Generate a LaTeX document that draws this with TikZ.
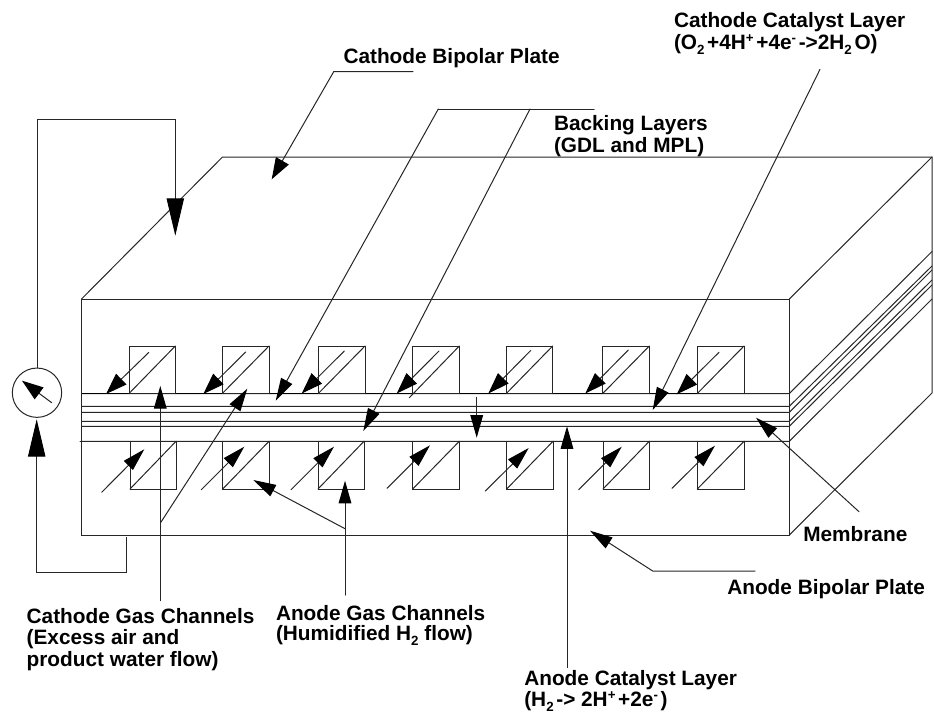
\documentclass[tikz,border=0pt]{standalone}
\usepackage{fontspec}
\setmainfont{Liberation Sans}
\usetikzlibrary{arrows.meta}
\newcommand{\lowsub}[1]{\raisebox{-3.6pt}{\fontsize{10}{10}\selectfont #1}\kern2pt}
\newcommand{\highsup}[1]{\raisebox{5.4pt}{\fontsize{10}{10}\selectfont #1}\kern2pt}
\tikzset{
  thinline/.style={line width=0.75pt,line cap=round,line join=miter,black!85},
  heavyline/.style={line width=1.1pt,black},
  bigarrow/.style={thinline,-{Triangle[length=28pt,width=13pt,color=black]}},
  leadarrow/.style={thinline,-{Triangle[length=17pt,width=9.5pt,color=black]}},
  slantarrow/.style={thinline,-{Triangle[length=16pt,width=11pt,color=black]}},
  lbl/.style={font=\fontsize{15.6}{16}\selectfont\bfseries,inner sep=0pt,outer sep=0pt,anchor=base west,align=left,text=black},
  meter/.style={circle,draw,line width=0.75pt,black!85,minimum size=37pt,inner sep=0pt},
}
\begin{document}
\begin{tikzpicture}[x=0.75pt,y=-0.75pt]
\useasboundingbox (0,0) rectangle (934,717);

% ---- block outline
\coordinate (FTL) at (81.5,299);
\coordinate (FTR) at (789.3,299);
\coordinate (FBL) at (81.5,535);
\coordinate (FBR) at (789.3,535);
\coordinate (BTL) at (222.5,157);
\coordinate (BTR) at (932,157);
\coordinate (BBR) at (932,393);
\draw[thinline] (FTL) rectangle (FBR);
\draw[thinline] (FTL) -- (BTL) -- (BTR) -- (BBR) -- (FBR);
\draw[thinline] (FTR) -- (BTR);

% ---- layers across the front and along the side
\foreach \yy/\yb in {393.5/251.5,406.3/266,412.3/270,421.3/280,426.3/285,441.3/299}{
  \draw[thinline] (81.5,\yy) -- (789.3,\yy) -- (932,\yb);
}
\draw[thinline] (80,441.3) -- (81.5,441.3);

% ---- heavier plate edge between the channels
\foreach \xa/\xb in {81.5/129,175.3/222.3,269/318.3,365/412.7,459.3/506.3,552.7/602.7,649.3/697.3}{
  \draw[heavyline] (\xa,393.5) -- (\xb,393.5);
}

% ---- gas channels
\foreach \xa/\xb in {129/175.3,222.3/269,318.3/365,506.3/552.7,602.7/649.3,697.3/744}{
  \draw[thinline] (\xa,393.5) -- (\xa,346) -- (\xb,346) -- (\xb,393.5);
  \draw[thinline] (\xa,393.5) -- (\xb,346);
}
\draw[thinline] (412.7,393.5) -- (412.7,346) -- (459.3,346) -- (459.3,393.5);
\draw[thinline] (459.3,346) -- (409.3,397.7);
\foreach \xa/\xb in {130/176,222.7/269,318/364,412.7/459.3,506.7/553,603/649.3,697.3/744}{
  \draw[thinline] (\xa,441.3) -- (\xa,489) -- (\xb,489) -- (\xb,441.3);
  \draw[thinline] (\xa,489) -- (\xb,441.3);
}

% ---- flow arrows in the channels
\foreach \n/\sx/\sy/\tx/\ty in {
  a/148.7/352.5/106/394, b/245.7/352/203.3/394, c/344.3/351/301.7/393.5,
  d/439/351/396.7/393.5, e/530.7/350.5/488.3/393.5, f/628.3/350/585.3/393.5, g/719/352.3/676.7/394.3}{
  \coordinate (cs\n) at (\sx,\sy);
  \coordinate (ct\n) at (\tx,\ty);
  \draw[slantarrow] (cs\n) -- (ct\n);
}
\foreach \n/\sx/\sy/\tx/\ty in {
  a/101.7/492.3/144.3/449.3, b/201.3/489.7/244.3/446.7, c/291/489.7/334/446.7,
  d/387/488.3/430/445.3, e/485.3/491/528.7/448, f/578.7/489.7/621.7/446.7, g/672/488.3/715/445.7}{
  \coordinate (as\n) at (\sx,\sy);
  \coordinate (at\n) at (\tx,\ty);
  \draw[leadarrow] (as\n) -- (at\n);
}

% ---- external circuit
\node[meter] (gauge) at (37,392.7) {};
\coordinate (needleA) at (51.7,402.7);
\coordinate (needleB) at (22,380.7);
\draw[slantarrow] (needleA) -- (needleB);
\coordinate (wc1) at (37,119);
\coordinate (wc2) at (175.3,119);
\coordinate (wtip) at (175.3,235.7);
\draw[bigarrow] (gauge.north) -- (wc1) -- (wc2) -- (wtip);
\coordinate (wa0) at (126.5,537.3);
\coordinate (wa1) at (126.5,572.7);
\coordinate (wa2) at (36.7,572.7);
\coordinate (wtipb) at (36.7,419.3);
\draw[bigarrow] (wa0) -- (wa1) -- (wa2) -- (wtipb);

% ---- labels
\node[lbl] (lCBP) at (343.5,64) {Cathode Bipolar Plate};
\node[lbl] (lBL1) at (554,130.7) {Backing Layers};
\node[lbl] (lBL2) at (554,152) {(GDL and MPL)};
\node[lbl] (lCC1) at (674,27.3) {Cathode Catalyst Layer};
\node[lbl] (lCC2) at (674,50) {(O\lowsub{2}+4H\highsup{+}+4e\highsup{-}->2H\lowsub{2}O)};
\node[lbl] (lCG1) at (26.7,623.3) {Cathode Gas Channels};
\node[lbl] (lCG2) at (26.7,644.7) {(Excess air and};
\node[lbl] (lCG3) at (26.7,666) {product water flow)};
\node[lbl] (lAG1) at (276,620) {Anode Gas Channels};
\node[lbl] (lAG2) at (276,640.7) {(Humidified H\lowsub{2}\kern-2pt{} flow)};
\node[lbl] (lAC1) at (524.3,685) {Anode Catalyst Layer};
\node[lbl] (lAC2) at (524.3,706.7) {(H\lowsub{2}-> 2H\highsup{+}+2e\highsup{-})};
\node[lbl] (lABP) at (727.3,594.3) {Anode Bipolar Plate};
\node[lbl] (lMem) at (803.3,541.7) {Membrane};

% ---- leaders
\coordinate (cb0) at (413,71.7);
\coordinate (cb1) at (333.7,71.7);
\coordinate (cb2) at (271.7,179.3);
\draw[slantarrow] (cb0) -- (cb1) -- (cb2);

\coordinate (bl0) at (594,109);
\coordinate (bl1) at (530,109);
\coordinate (bl2) at (438.3,109);
\coordinate (bl3) at (363.3,431);
\coordinate (bl4) at (275.7,400.7);
\draw[thinline] (bl0) -- (bl2);
\draw[leadarrow] (bl1) -- (bl3);
\draw[leadarrow] (bl2) -- (bl4);

\coordinate (cc0) at (820,69.3);
\coordinate (cc1) at (652.7,410);
\draw[leadarrow] (cc0) -- (cc1);

\coordinate (cg0) at (160.3,600.5);
\coordinate (cg1) at (160.3,386);
\coordinate (cg2) at (160.6,522.7);
\coordinate (cg3) at (247.3,388.7);
\draw[leadarrow] (cg0) -- (cg1);
\draw[leadarrow] (cg2) -- (cg3);

\coordinate (ag0) at (345,595);
\coordinate (ag1) at (345,480.7);
\coordinate (ag2) at (345,528.7);
\coordinate (ag3) at (253.3,480);
\draw[leadarrow] (ag0) -- (ag1);
\draw[leadarrow] (ag2) -- (ag3);

\coordinate (ac0) at (567,667.5);
\coordinate (ac1) at (567,426.3);
\draw[leadarrow] (ac0) -- (ac1);

\coordinate (ab0) at (755,571);
\coordinate (ab1) at (652.7,571);
\coordinate (ab2) at (590,530.7);
\draw[leadarrow] (ab0) -- (ab1) -- (ab2);

\coordinate (mb0) at (859,511.7);
\coordinate (mb1) at (756,417.7);
\draw[leadarrow] (mb0) -- (mb1);

\coordinate (ct0) at (476.7,397.3);
\coordinate (ct1) at (476.7,437.7);
\draw[leadarrow] (ct0) -- (ct1);
\end{tikzpicture}
\end{document}
